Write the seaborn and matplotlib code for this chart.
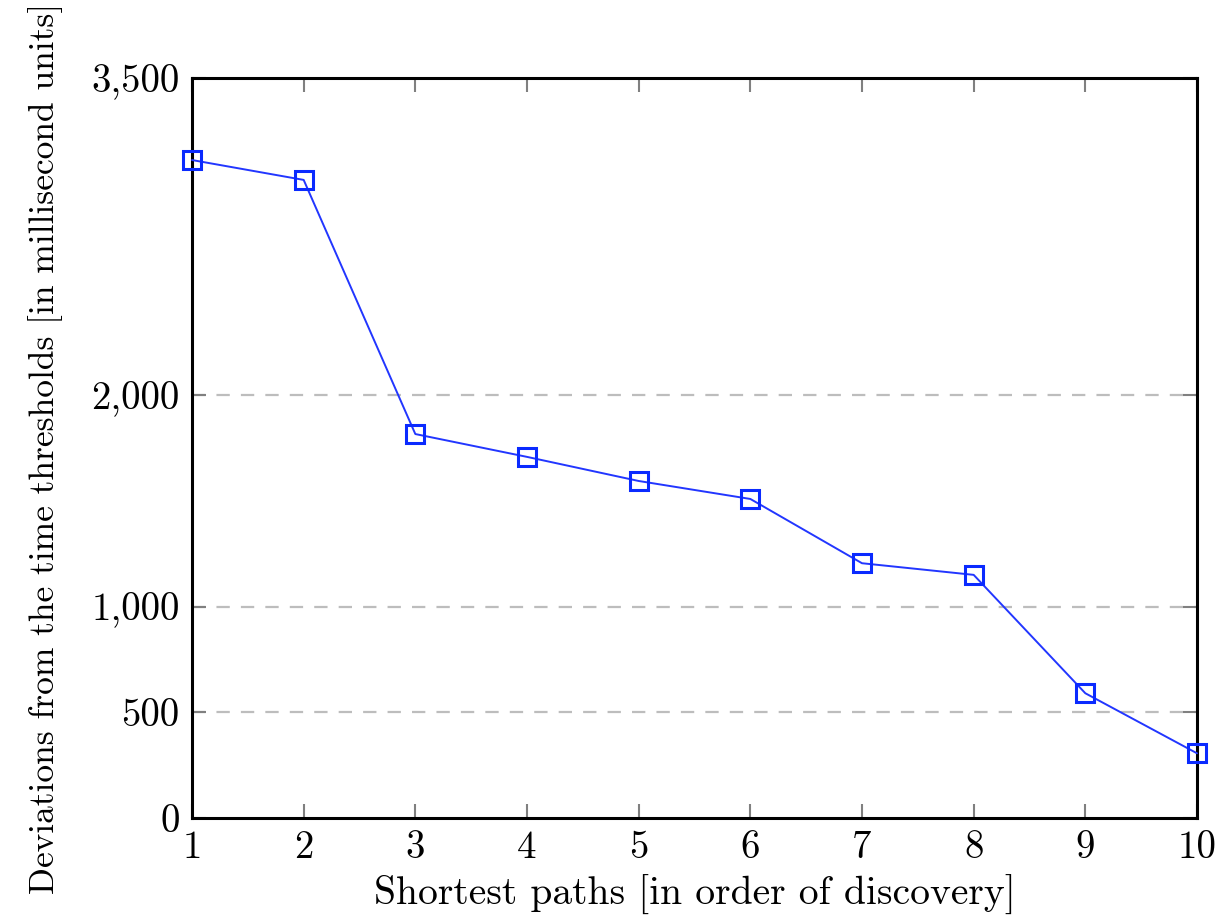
import matplotlib
matplotlib.use("Agg")
import matplotlib.pyplot as plt
import seaborn as sns
import pandas as pd

# Data
paths = [1, 2, 3, 4, 5, 6, 7, 8, 9, 10]
deviations = [3112, 3018, 1816, 1708, 1594, 1509, 1205, 1150, 590, 306]
y_ticks = [0, 500, 1000, 2000, 3500]
y_tick_labels = ["0", "500", "1,000", "2,000", "3,500"]
x_label = "Shortest paths [in order of discovery]"
y_label = "Deviations from the time thresholds [in millisecond units]"

sns.set_theme(style="white")
plt.rcParams['font.family'] = ['cmr10', 'DejaVu Serif']
plt.rcParams['axes.formatter.use_mathtext'] = True
plt.rcParams['axes.unicode_minus'] = False

df = pd.DataFrame({"path": paths, "dev": deviations})

fig = plt.figure(figsize=(12.22, 9.16), dpi=100)
ax = fig.add_axes([192/1222, 1 - 818/916, (1197-192)/1222, (818-78)/916])

for yv in [500, 1000, 2000]:
    ax.axhline(yv, color="#bdbdbd", lw=1.6, dashes=(6, 5), zorder=0)

sns.lineplot(data=df, x="path", y="dev", ax=ax, color="#2236ff", lw=1.4,
             marker="s", markersize=13, markerfacecolor="none",
             markeredgecolor="#0a2aff", markeredgewidth=2.2, clip_on=False, zorder=5)

ax.set_xlim(1, 10)
ax.set_ylim(0, 3500)
ax.set_xticks(paths)
ax.set_xticklabels([str(p) for p in paths])
ax.set_yticks(y_ticks)
ax.set_yticklabels(y_tick_labels)

ax.tick_params(axis="both", which="major", direction="in", length=10, width=1.5,
               color="#808080", labelsize=28, labelcolor="black",
               top=True, right=True, bottom=True, left=True, pad=9)
for s in ax.spines.values():
    s.set_visible(True)
    s.set_color("black")
    s.set_linewidth(2.2)

ax.set_xlabel(x_label, fontsize=28.5, color="black", labelpad=6)
ax.set_ylabel(y_label, fontsize=25.5, color="black", labelpad=20)
ax.grid(False)

fig.savefig("out.png", dpi=100, facecolor="white")
